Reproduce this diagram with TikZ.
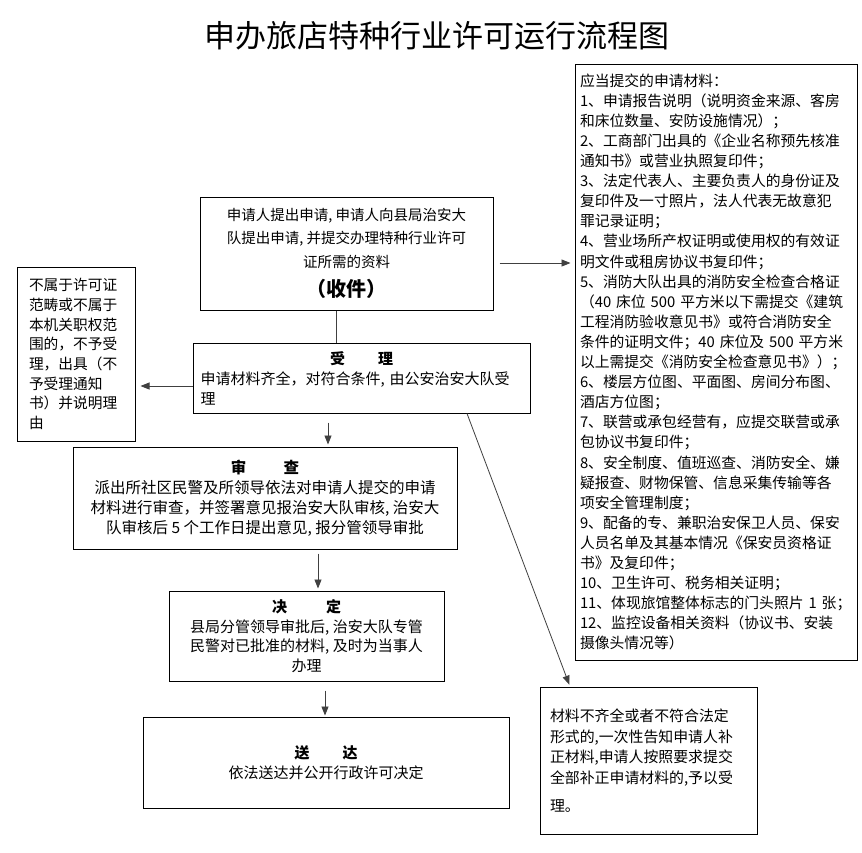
\documentclass[tikz,border=0pt]{standalone}
\usepackage{fontspec}
\setmainfont{Noto Sans CJK SC}
\usetikzlibrary{positioning}
\usetikzlibrary{arrows.meta}

\begin{document}
\begin{tikzpicture}[x=1pt,y=-1pt,
        box/.style={draw, line width=1pt, inner ysep=0pt, font=\fontsize{15}{20}\selectfont},
        link/.style={line width=0.8pt, black!75},
        flow/.style={link, -{Triangle[length=9pt,width=7pt]}}]
    \useasboundingbox[fill=white] (0,0) rectangle (862,852);

    % Title
    \node (title) at (437,36) {\fontsize{31}{31}\selectfont 申办旅店特种行业许可运行流程图};

    % Application (receipt)
    \node[box, font=\fontsize{14.5}{23.5}\selectfont, minimum width=293pt, minimum height=113pt, align=center] (apply) at (346.5,253.5)
        {申请人提出申请, 申请人向县局治安大\\队提出申请, 并提交办理特种行业许可\\证所需的资料\\[6pt]{\fontsize{20}{24}\selectfont\bfseries （收件）}};

    % Materials list on the right
    \node[box, font=\fontsize{14.8}{20.1}\selectfont, text width=272pt, inner xsep=5pt, minimum height=596pt, align=left] (materials) at (716,362)
        {应当提交的申请材料：\\
         1、申请报告说明（说明资金来源、客房\\
         和床位数量、安防设施情况）；\\
         2、工商部门出具的《企业名称预先核准\\
         通知书》或营业执照复印件；\\
         3、法定代表人、主要负责人的身份证及\\
         复印件及一寸照片，法人代表无故意犯\\
         罪记录证明；\\
         4、营业场所产权证明或使用权的有效证\\
         明文件或租房协议书复印件；\\
         5、消防大队出具的消防安全检查合格证\\
         （40~床位~500~平方米以下需提交《建筑\\
         工程消防验收意见书》或符合消防安全\\
         条件的证明文件；40~床位及~500~平方米\\
         以上需提交《消防安全检查意见书》）；\\
         6、楼层方位图、平面图、房间分布图、\\
         酒店方位图；\\
         7、联营或承包经营有，应提交联营或承\\
         包协议书复印件；\\
         8、安全制度、值班巡查、消防安全、嫌\\
         疑报查、财物保管、信息采集传输等各\\
         项安全管理制度；\\
         9、配备的专、兼职治安保卫人员、保安\\
         人员名单及其基本情况《保安员资格证\\
         书》及复印件；\\
         10、卫生许可、税务相关证明；\\
         11、体现旅馆整体标志的门头照片~1~张；\\
         12、监控设备相关资料（协议书、安装\\
         摄像头情况等）};

    % Acceptance
    \node[box, text width=322pt, inner xsep=7.5pt, minimum height=70pt, align=left] (accept) at (361.5,378)
        {\makebox[322pt]{\bfseries 受\hspace{2.2em}理}\\
         申请材料齐全，对符合条件, 由公安治安大队受\\理};

    % Rejection
    \node[box, font=\fontsize{14.7}{19.7}\selectfont, text width=94pt, inner xsep=12pt, minimum height=174pt, align=left] (reject) at (76,354)
        {不属于许可证\\范畴或不属于\\本机关职权范\\围的，不予受\\理，出具（不\\予受理通知\\书）并说明理\\由};

    % Examination
    \node[box, font=\fontsize{15.5}{20}\selectfont, minimum width=384pt, minimum height=102pt, align=center] (check) at (265,498)
        {{\bfseries 审\hspace{2.4em}查}\\
         派出所社区民警及所领导依法对申请人提交的申请\\
         材料进行审查，并签署意见报治安大队审核, 治安大\\
         队审核后 5 个工作日提出意见, 报分管领导审批};

    % Decision
    \node[box, font=\fontsize{15}{19.5}\selectfont, minimum width=275pt, minimum height=90pt, align=center] (decide) at (306.5,636)
        {{\bfseries 决\hspace{2.6em}定}\\
         县局分管领导审批后, 治安大队专管\\
         民警对已批准的材料, 及时为当事人\\
         办理};

    % Delivery
    \node[box, minimum width=366pt, minimum height=91pt, align=center] (deliver) at (326,762.5)
        {{\bfseries 送\hspace{2.2em}达}\\
         依法送达并公开行政许可决定};

    % Incomplete materials
    \node[box, font=\fontsize{14.9}{20.7}\selectfont, text width=197pt, inner xsep=10pt, minimum height=147pt, align=left] (incomplete) at (648.5,760.5)
        {材料不齐全或者不符合法定\\形式的,一次性告知申请人补\\正材料,申请人按照要求提交\\全部补正申请材料的,予以受\\[7pt]理。};

    % Connectors
    \draw[link] ([xshift=-10.5pt]apply.south) -- ([xshift=-10.5pt]apply.south |- accept.north);
    \draw[flow, shorten <=6pt, shorten >=4pt] ([yshift=-9.5pt]apply.east) -- ([yshift=-9.5pt]apply.east -| materials.west);
    \draw[flow, shorten >=5pt] ([yshift=-8pt]accept.west) -- ([yshift=-8pt]accept.west -| reject.east);
    \draw[flow, shorten <=9pt, shorten >=2pt] ([xshift=-33.5pt]accept.south) -- ([xshift=-33.5pt]accept.south |- check.north);
    \draw[flow, shorten <=4pt, shorten >=2pt] ([xshift=53pt]check.south) -- ([xshift=53pt]check.south |- decide.north);
    \draw[flow, shorten <=9pt, shorten >=1pt] ([xshift=18.5pt]decide.south) -- ([xshift=18.5pt]decide.south |- deliver.north);
    \draw[flow, shorten >=2pt] ([xshift=105.5pt]accept.south) -- ([xshift=-78.5pt]incomplete.north);
\end{tikzpicture}
\end{document}
